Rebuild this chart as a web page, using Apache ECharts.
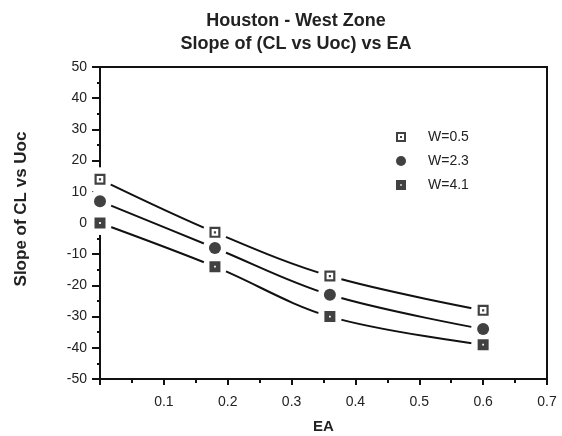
<!DOCTYPE html>
<html><head><meta charset="utf-8">
<script src="https://cdn.jsdelivr.net/npm/echarts@6/dist/echarts.min.js"></script>
<style>html,body{margin:0;padding:0;background:#fff}#c{width:562px;height:436px}</style>
</head><body><div id="c"></div>
<script>
const ea = [0, 0.18, 0.36, 0.6];
const w05 = [14, -3, -17, -28];
const w23 = [7, -8, -23, -34];
const w41 = [0, -14, -30, -39];
const seriesNames = ['W=0.5', 'W=2.3', 'W=4.1'];
const xTicks = [0.1, 0.2, 0.3, 0.4, 0.5, 0.6, 0.7];

const symOpen = 'path://M0,0 L10,0 L10,10 L0,10 Z M2,2 L2,8 L8,8 L8,2 Z M4,4 L6,4 L6,6 L4,6 Z';
const symFill = 'path://M0,0 L10,0 L10,10 L0,10 Z M4.2,4.2 L4.2,5.8 L5.8,5.8 L5.8,4.2 Z';
const syms = [symOpen, 'circle', symFill];
const sizes = [11, 12, 11];
const all = [w05, w23, w41];
const pts = v => ea.map((x, i) => [x, v[i]]);

const series = [];
all.forEach((v, k) => {
  series.push({name: 'line' + k, type: 'line', data: pts(v), smooth: 0.35, symbol: 'none', silent: true,
    lineStyle: {color: '#111', width: 2}, z: 1, zlevel: 0});
});
all.forEach((v, k) => {
  series.push({name: 'gap' + k, type: 'scatter', data: pts(v), symbol: 'circle', symbolSize: 24, silent: true,
    itemStyle: {color: '#ffffff', opacity: 1}, z: 10, zlevel: 1});
});
all.forEach((v, k) => {
  series.push({name: seriesNames[k], type: 'scatter', data: pts(v), symbol: syms[k], symbolSize: sizes[k],
    itemStyle: {color: '#111'}, z: 20, zlevel: 2});
});

const chart = echarts.init(document.getElementById('c'));
chart.setOption({
  animation: false,
  backgroundColor: '#fff',
  title: {text: 'Houston - West Zone\nSlope of (CL vs Uoc) vs EA', left: 291, textAlign: 'center', top: 5,
    textStyle: {fontFamily: 'Liberation Sans', fontWeight: 'bold', fontSize: 18, color: '#222', lineHeight: 23}},
  legend: {data: seriesNames, orient: 'vertical', left: 391, top: 125, itemWidth: 10, itemHeight: 10, itemGap: 10,
    textStyle: {fontFamily: 'Liberation Sans', fontSize: 14, color: '#222', padding: [0, 0, 0, 17]}},
  grid: {left: 100, right: 15, top: 67, bottom: 57, show: true, borderColor: '#111', borderWidth: 2,
    outerBoundsMode: 'none', containLabel: false},
  xAxis: {type: 'value', min: 0, max: 0.7, interval: 0.1, name: 'EA', nameLocation: 'middle', nameGap: 40,
    nameTextStyle: {fontFamily: 'Liberation Sans', fontWeight: 'bold', fontSize: 15, color: '#222'},
    axisLine: {onZero: false, lineStyle: {color: '#111', width: 2}},
    axisTick: {show: true, length: 6, lineStyle: {color: '#111', width: 2}},
    minorTick: {show: true, splitNumber: 2, length: 4, lineStyle: {color: '#111', width: 2}},
    splitLine: {show: false},
    axisLabel: {showMinLabel: false, fontFamily: 'Liberation Sans', fontSize: 14, color: '#222', margin: 16,
      formatter: v => xTicks.some(t => Math.abs(t - v) < 1e-9) ? String(Math.round(v * 10) / 10) : ''}},
  yAxis: {type: 'value', min: -50, max: 50, interval: 10, name: 'Slope of CL vs Uoc', nameLocation: 'middle', nameGap: 70,
    nameTextStyle: {fontFamily: 'Liberation Sans', fontWeight: 'bold', fontSize: 17, color: '#222', padding: [0, 0, 0, 28]},
    axisLine: {onZero: false, lineStyle: {color: '#111', width: 2}},
    axisTick: {show: true, length: 8, lineStyle: {color: '#111', width: 2}},
    minorTick: {show: true, splitNumber: 2, length: 3, lineStyle: {color: '#111', width: 2}},
    splitLine: {show: false},
    axisLabel: {fontFamily: 'Liberation Sans', fontSize: 14, color: '#222', margin: 13}},
  series: series
});
</script></body></html>
